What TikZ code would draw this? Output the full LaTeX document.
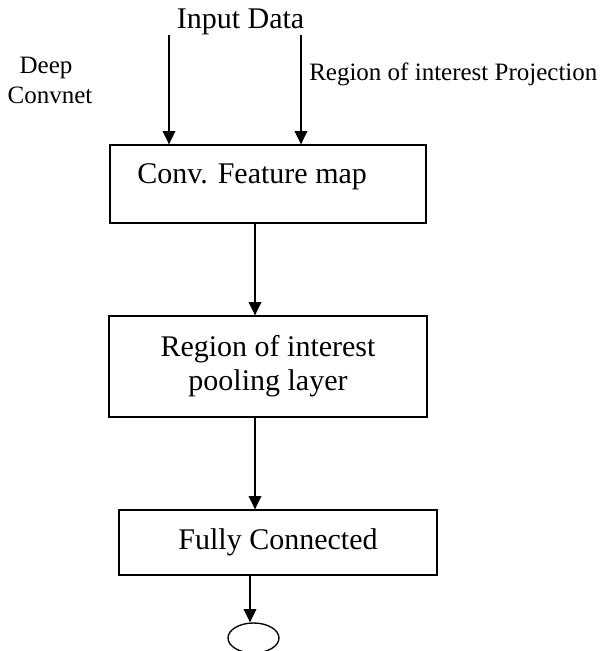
\documentclass[tikz,border=0pt]{standalone}
\usepackage{fontspec}
\setmainfont{Liberation Serif}
\usetikzlibrary{arrows.meta,shapes.geometric}
\tikzset{
  boxnode/.style={draw,line width=1pt,rectangle,inner sep=0pt,align=center,
    font=\fontsize{22.5}{25.5}\selectfont},
  bigtext/.style={inner sep=0pt,font=\fontsize{22.5}{25.5}\selectfont},
  smalltext/.style={inner sep=0pt,font=\fontsize{18.75}{22.5}\selectfont},
  flow/.style={line width=1pt,-{Triangle[length=10pt,width=9.5pt]}},
}
\begin{document}
\begin{tikzpicture}[x=0.75pt,y=-0.75pt]
\useasboundingbox (0,0) rectangle (600,651);
\clip (0,0) rectangle (600,651);
% boxes
\node[boxnode,minimum width=237pt,minimum height=58.5pt] (box1) at (268,184) {};
\node[bigtext,anchor=base west] (box1text) at (137,183) {Conv. Feature map};
\node[boxnode,minimum width=238.5pt,minimum height=75.75pt] (box2) at (268,366.5) {Region of interest\\pooling layer};
\node[boxnode,minimum width=238.5pt,minimum height=48.75pt] (box3) at (278,542.5) {Fully Connected};
\node[draw,line width=1pt,ellipse,inner sep=0pt,minimum width=38.25pt,minimum height=22.5pt] (out) at (253.5,638) {};
% labels
\node[bigtext,anchor=base] (input) at (240.5,28) {Input Data};
\node[smalltext,anchor=base west] (roi) at (309,80) {Region of interest Projection};
\node[smalltext,anchor=base] (deep) at (46,73) {Deep};
\node[smalltext,anchor=base] (convnet) at (50,103) {Convnet};
% arrow anchors
\coordinate (inL) at (169,35);
\coordinate (inR) at (301,35);
\coordinate (c1) at (255,0);
\coordinate (c3) at (250,0);
% connectors
\draw[flow] (inL) -- (inL |- box1.north);
\draw[flow] (inR) -- (inR |- box1.north);
\draw[flow] (box1.south -| c1) -- (box2.north -| c1);
\draw[flow] (box2.south -| c1) -- (box3.north -| c1);
\draw[flow] (box3.south -| c3) -- (c3 |- out.north);
\end{tikzpicture}
\end{document}
